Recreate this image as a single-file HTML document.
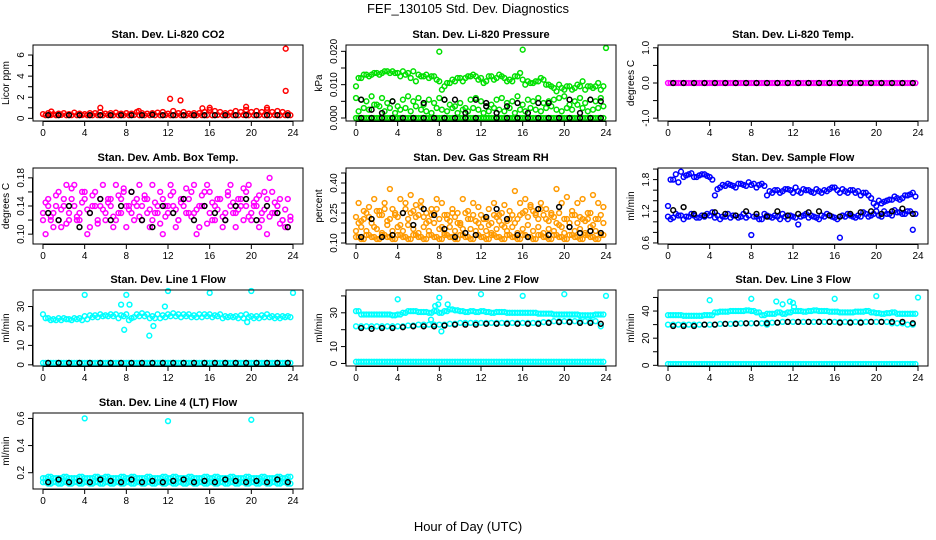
<!DOCTYPE html>
<html><head><meta charset="utf-8"><style>
body{margin:0;background:#fff}
svg{display:block;font-family:"Liberation Sans",sans-serif}
</style></head><body>
<svg id="c" width="936" height="540" viewBox="0 0 936 540">
<text x="468" y="13" text-anchor="middle" font-size="13">FEF_130105  Std. Dev. Diagnostics</text>
<text x="468" y="531" text-anchor="middle" font-size="13">Hour of Day (UTC)</text>
</svg>
<script>
const h48=[0,0.5,1,1.5,2,2.5,3,3.5,4,4.5,5,5.5,6,6.5,7,7.5,8,8.5,9,9.5,10,10.5,11,11.5,12,12.5,13,13.5,14,14.5,15,15.5,16,16.5,17,17.5,18,18.5,19,19.5,20,20.5,21,21.5,22,22.5,23,23.5];
const h48b=[0.25,0.75,1.25,1.75,2.25,2.75,3.25,3.75,4.25,4.75,5.25,5.75,6.25,6.75,7.25,7.75,8.25,8.75,9.25,9.75,10.25,10.75,11.25,11.75,12.25,12.75,13.25,13.75,14.25,14.75,15.25,15.75,16.25,16.75,17.25,17.75,18.25,18.75,19.25,19.75,20.25,20.75,21.25,21.75,22.25,22.75,23.25,23.75];
const h24=[0.5,1.5,2.5,3.5,4.5,5.5,6.5,7.5,8.5,9.5,10.5,11.5,12.5,13.5,14.5,15.5,16.5,17.5,18.5,19.5,20.5,21.5,22.5,23.5];
const xTicks=[0,4,8,12,16,20,24];

// CO2
const co2Red=[0.4,0.5,0.4,0.45,0.5,0.4,0.55,0.45,0.4,0.5,0.5,0.6,0.45,0.5,0.55,0.45,0.5,0.45,0.6,0.5,0.45,0.5,0.55,0.6,0.45,0.7,0.5,0.6,0.45,0.5,0.5,0.6,0.8,0.7,0.6,0.5,0.55,0.7,0.6,0.8,0.6,0.7,0.6,0.8,0.6,0.7,0.6,0.5];
const co2Red2=[0.3,0.32,0.3,0.33,0.3,0.31,0.3,0.32,0.3,0.3,0.31,0.3,0.32,0.3,0.3,0.31,0.3,0.32,0.3,0.3,0.31,0.3,0.3,0.32,0.3,0.31,0.3,0.3,0.32,0.3,0.31,0.3,0.3,0.32,0.3,0.3,0.31,0.3,0.32,0.3,0.3,0.31,0.3,0.3,0.32,0.3,0.31,0.3];
const co2OutX=[0.8,5.5,12.2,13.2,16,19.5,21.5,23.3,23.3,9.2,15.3];
const co2OutY=[0.65,1.0,1.85,1.7,1.0,1.1,1.0,6.6,2.6,0.7,0.95];
const co2Blk=[0.3,0.3,0.3,0.3,0.3,0.3,0.3,0.3,0.3,0.3,0.35,0.3,0.3,0.3,0.3,0.3,0.3,0.3,0.3,0.3,0.3,0.3,0.3,0.3];
// Pressure
const pUp=[0.0095,0.012,0.013,0.013,0.0135,0.0135,0.014,0.014,0.0135,0.014,0.0135,0.014,0.013,0.0125,0.012,0.0125,0.011,0.0095,0.0105,0.011,0.012,0.012,0.0125,0.0125,0.012,0.011,0.0125,0.012,0.0125,0.011,0.011,0.0125,0.0115,0.011,0.0105,0.011,0.0115,0.01,0.009,0.01,0.0085,0.0095,0.009,0.0095,0.0085,0.0095,0.0095,0.0085];
const pUp2=[0.012,0.013,0.0125,0.0135,0.013,0.014,0.0135,0.0135,0.0125,0.013,0.012,0.011,0.0125,0.013,0.0125,0.0115,0.0085,0.0105,0.0115,0.012,0.011,0.0125,0.013,0.0115,0.0105,0.0125,0.0115,0.013,0.012,0.0115,0.0125,0.0135,0.01,0.0105,0.011,0.012,0.01,0.0095,0.008,0.009,0.0095,0.0085,0.01,0.011,0.0095,0.009,0.0105,0.0095];
const pMid=[0.006,0.0055,0.005,0.0065,0.004,0.006,0.0045,0.005,0.0035,0.0055,0.0065,0.005,0.006,0.004,0.0055,0.0045,0.006,0.0055,0.004,0.0035,0.0045,0.003,0.0055,0.006,0.005,0.0035,0.004,0.0055,0.006,0.0045,0.005,0.0065,0.004,0.0055,0.005,0.006,0.0045,0.005,0.0055,0.006,0.0065,0.004,0.005,0.006,0.0045,0.0055,0.005,0.006];
const pLow=[0.002,0.003,0.0025,0.004,0.0035,0.002,0.003,0.0015,0.0025,0.003,0.002,0.0035,0.0025,0.002,0.0015,0.003,0.0025,0.002,0.003,0.0015,0.0025,0.002,0.003,0.0025,0.0015,0.002,0.003,0.0025,0.002,0.003,0.0015,0.0025,0.002,0.003,0.0025,0.002,0.003,0.0035,0.0025,0.002,0.003,0.0025,0.004,0.003,0.002,0.0025,0.003,0.0035];
const pZero=[0,0,0,0,0,0,0,0,0,0,0,0,0,0,0,0,0,0,0,0,0,0,0,0,0,0,0,0,0,0,0,0,0,0,0,0,0,0,0,0,0,0,0,0,0,0,0,0];
const pOutX=[8,16,24];
const pOutY=[0.0199,0.0205,0.021];
const pBlk=[0.0055,0.0025,0.0015,0.005,0,0,0.0045,0,0.0055,0.0055,0.0015,0.0055,0.0045,0.0015,0.0035,0.0045,0.0015,0.0045,0.0045,0,0.0055,0.0015,0.0055,0.005];
const pBlk2=[0,0,0,0,0,0,0,0,0,0,0,0,0.0035,0,0,0,0,0,0,0,0,0,0,0];
// Temp
const tMag=pZero;
const tBlk=[0,0,0,0,0,0,0,0,0,0,0,0,0,0,0,0,0,0,0,0,0,0,0,0];
// Amb box temp
const aMag1=[0.13,0.15,0.11,0.16,0.14,0.12,0.17,0.13,0.15,0.11,0.16,0.14,0.12,0.15,0.17,0.13,0.11,0.16,0.14,0.12,0.15,0.17,0.13,0.1,0.14,0.16,0.12,0.15,0.13,0.17,0.11,0.14,0.16,0.12,0.15,0.13,0.17,0.11,0.14,0.16,0.12,0.15,0.13,0.1,0.16,0.14,0.12,0.15];
const aMag2=[0.1,0.12,0.14,0.11,0.17,0.15,0.12,0.16,0.1,0.14,0.12,0.17,0.15,0.11,0.13,0.16,0.14,0.12,0.17,0.15,0.11,0.13,0.16,0.14,0.17,0.11,0.15,0.13,0.16,0.1,0.14,0.17,0.12,0.15,0.11,0.16,0.13,0.15,0.12,0.17,0.14,0.11,0.16,0.18,0.13,0.15,0.11,0.12];
const aMag3=[0.12,0.14,0.13,0.12,0.15,0.13,0.14,0.12,0.16,0.13,0.14,0.15,0.13,0.14,0.12,0.15,0.14,0.13,0.15,0.14,0.13,0.12,0.14,0.15,0.13,0.14,0.12,0.14,0.15,0.13,0.14,0.16,0.13,0.14,0.15,0.12,0.14,0.13,0.15,0.14,0.13,0.14,0.12,0.15,0.13,0.14,0.12,0.11];
const aMag4=[0.145,0.125,0.155,0.135,0.115,0.165,0.125,0.145,0.135,0.155,0.115,0.135,0.145,0.125,0.155,0.165,0.135,0.145,0.125,0.155,0.135,0.145,0.115,0.125,0.155,0.135,0.145,0.165,0.125,0.135,0.155,0.115,0.145,0.135,0.125,0.155,0.145,0.135,0.165,0.125,0.145,0.155,0.135,0.125,0.145,0.115,0.135,0.125];
const aBlk=[0.13,0.12,0.14,0.11,0.13,0.15,0.12,0.14,0.16,0.12,0.11,0.14,0.13,0.15,0.12,0.14,0.13,0.12,0.14,0.15,0.12,0.14,0.13,0.11];
// RH
const rLow=[0.13,0.12,0.14,0.13,0.12,0.14,0.13,0.12,0.14,0.13,0.12,0.14,0.13,0.12,0.14,0.13,0.12,0.14,0.13,0.12,0.14,0.13,0.12,0.14,0.13,0.12,0.14,0.13,0.12,0.14,0.13,0.12,0.14,0.13,0.12,0.14,0.13,0.12,0.14,0.13,0.12,0.14,0.13,0.12,0.14,0.13,0.12,0.14];
const rMid=[0.2,0.26,0.23,0.18,0.24,0.27,0.22,0.25,0.19,0.27,0.25,0.23,0.28,0.2,0.24,0.27,0.18,0.22,0.25,0.2,0.17,0.22,0.24,0.2,0.22,0.19,0.24,0.21,0.18,0.22,0.2,0.24,0.26,0.28,0.24,0.27,0.22,0.25,0.2,0.18,0.22,0.24,0.2,0.22,0.25,0.19,0.22,0.2];
const rMid2=[0.16,0.18,0.16,0.2,0.17,0.15,0.19,0.16,0.18,0.16,0.19,0.17,0.15,0.18,0.16,0.2,0.17,0.15,0.18,0.16,0.19,0.15,0.17,0.16,0.18,0.16,0.15,0.17,0.19,0.16,0.18,0.15,0.17,0.19,0.16,0.18,0.15,0.17,0.16,0.19,0.15,0.18,0.16,0.17,0.15,0.18,0.16,0.15];
const rMid3=[0.23,0.21,0.25,0.22,0.26,0.24,0.21,0.27,0.23,0.25,0.22,0.26,0.24,0.23,0.21,0.25,0.22,0.24,0.21,0.23,0.2,0.25,0.22,0.21,0.24,0.22,0.2,0.23,0.25,0.21,0.24,0.22,0.25,0.23,0.26,0.22,0.24,0.21,0.23,0.25,0.22,0.2,0.24,0.23,0.21,0.25,0.22,0.24];
const rHigh=[0.3,0.22,0.28,0.32,0.26,0.3,0.37,0.24,0.32,0.3,0.34,0.29,0.31,0.25,0.27,0.32,0.3,0.24,0.27,0.25,0.32,0.26,0.3,0.28,0.22,0.27,0.3,0.24,0.29,0.26,0.36,0.3,0.32,0.29,0.25,0.3,0.27,0.24,0.37,0.3,0.33,0.26,0.3,0.32,0.22,0.34,0.3,0.28];
const rBlk=[0.13,0.22,0.13,0.14,0.25,0.19,0.27,0.24,0.17,0.13,0.15,0.14,0.23,0.27,0.22,0.14,0.13,0.27,0.14,0.28,0.18,0.15,0.16,0.15];
// Sample flow
const sUp=[1.3,1.8,1.75,1.85,1.9,1.85,1.88,1.9,1.85,1.5,1.65,1.68,1.7,1.65,1.72,1.68,1.7,1.65,1.72,1.5,1.55,1.6,1.58,1.62,1.55,1.58,1.62,1.6,1.55,1.58,1.6,1.62,1.65,1.55,1.58,1.6,1.55,1.5,1.55,1.45,1.3,1.35,1.4,1.42,1.45,1.45,1.5,1.55];
const sUp2=[1.8,1.9,1.95,1.88,1.92,1.85,1.9,1.87,1.8,1.62,1.7,1.72,1.68,1.72,1.7,1.75,1.72,1.7,1.68,1.58,1.6,1.55,1.62,1.6,1.65,1.55,1.6,1.57,1.62,1.55,1.58,1.65,1.6,1.62,1.55,1.6,1.58,1.55,1.5,1.35,1.4,1.38,1.42,1.48,1.42,1.5,1.52,1.48];
const sLow=[1.1,1.08,1.12,1.05,1.1,1.12,1.08,1.1,1.12,1.08,1.05,1.1,1.08,1.12,1.1,1.08,0.75,1.1,1.05,1.12,1.08,1.1,1.15,1.05,1.1,0.95,1.12,1.08,1.1,1.05,1.1,1.12,1.08,0.7,1.1,1.12,1.08,1.1,1.15,1.12,1.2,1.1,1.15,1.12,1.18,1.15,1.2,0.85];
const sLow2=[1.05,1.15,1.12,1.1,1.15,1.08,1.12,1.15,1.18,1.12,1.1,1.15,1.12,1.08,1.15,1.12,1.1,1.05,1.15,1.1,1.12,1.05,1.1,1.12,1.08,1.1,1.15,1.12,1.08,1.12,1.15,1.1,1.05,1.12,1.15,1.1,1.12,1.18,1.1,1.15,1.12,1.2,1.15,1.22,1.18,1.15,1.2,1.15];
const sBlk=[1.22,1.28,1.15,1.12,1.18,1.15,1.12,1.2,1.15,1.1,1.2,1.12,1.15,1.18,1.2,1.12,1.1,1.15,1.18,1.2,1.15,1.2,1.25,1.15];
// Line 1
const l1Band=[26,24,23.5,24,24,23.5,24,24,25,25.5,25.5,26,25.5,26,26,25.5,26,24,26,26.5,26,25,26,25.5,26,26.5,26,26,26,25.5,26,26,26,25.5,26,25,25,25,25.5,26,25,25,25.5,26,25,25,25,25];
const l1Band2=[24,23,23,23,23.5,23,23.5,23,23.5,24.5,24.5,25,25,25,24,25,23,24.5,25,25,24,24,24,24.5,25,25,24.5,25,24.5,24.5,24.5,25,24.5,25,24,24.5,24.5,24,24,24.5,24,24,24.5,24.5,24,24,24.5,24.5];
const l1OutX=[4,8,12,16,20,24,7.5,8.3,10.6,10.2,11.7,7.8,19.6];
const l1OutY=[36,36,38,37,38,37,31,31,20,15,30,18,22];
const l1Zero=[1,1,1,1,1,1,1,1,1,1,1,1,1,1,1,1,1,1,1,1,1,1,1,1,1,1,1,1,1,1,1,1,1,1,1,1,1,1,1,1,1,1,1,1,1,1,1,1];
const l1Blk=[1,1,1,1,1,1,1,1,1,1,1,1,1,1,1,1,1,1,1,1,1,1,1,1];
// Line 2
const l2Band=[31,29,29,29,29,29,29,28.5,29,30,31,31,30.5,30.5,30,31,30,31,32,31.5,31,30.5,31,30.5,31,30.5,30,30.5,30.5,30,30,30,30,30,30,29.5,29.5,29.5,29,29,29,29,29,28.5,28.5,28.5,29,29];
const l2Low=[22,22,22,22,22,22,22,22,22,22,22.5,22.5,23,23,23,23,23,23,23.5,23.5,24,24,24,24,24,24,24,24,24,24,24,24,24,24,24,24,24.5,24.5,25,25,25,25,25,25,25,25,25,22];
const l2OutX=[4,8,12,16,20,24,7.6,7.9,7.2,8.2,8.8];
const l2OutY=[38,39,41,40,41,40,34,35,26,19,35];
const l2Blk=[21,20.5,21,21,21.5,22,22,22,22.5,23,23,23,23.5,23.5,23.5,23.5,23.5,23.5,24,24.5,24.5,24,24,23.5];
// Line 3
const l3Band=[37,37,37,36.5,36.5,36.5,36.5,37,37,39,39.5,39.5,40,40,40,40.5,40,39,37,38,38,39,38,39,40,40,39.5,40,40.5,40,40,39.5,39.5,39,39,39,39.5,39.5,40,39,38.5,38,38.5,39,38,38,38,38];
const l3Low=[30,30,30,30,30,30,30,30,30,30,30.5,30.5,30.5,31,31,31,31,31,31,31.5,31.5,31.5,32,32,32,32,32,32,32,32,32,32,32,32,32,32,32,32,32,32,32,32,32,31,31,31,30,30];
const l3OutX=[4,8,12,16,20,24,10.4,11,11.7,12.1,9.5];
const l3OutY=[48,49,46,49,51,50,47,45,47,43,30];
const l3Blk=[29,29,29,30,30,30.5,30.5,31,31,31,31.5,32,32,32,32,32,31.5,31.5,31.5,32,32,32,32,31];
// Line 4
const l4Band=[0.16,0.17,0.16,0.16,0.17,0.16,0.16,0.17,0.16,0.16,0.17,0.16,0.17,0.16,0.16,0.17,0.16,0.17,0.16,0.16,0.17,0.16,0.16,0.17,0.16,0.17,0.16,0.16,0.17,0.16,0.16,0.17,0.16,0.17,0.16,0.16,0.17,0.16,0.16,0.17,0.16,0.16,0.17,0.16,0.16,0.17,0.16,0.17];
const l4Low=[0.13,0.12,0.13,0.12,0.13,0.12,0.13,0.12,0.13,0.12,0.13,0.12,0.13,0.12,0.13,0.12,0.13,0.12,0.13,0.12,0.13,0.12,0.13,0.12,0.13,0.12,0.13,0.12,0.13,0.12,0.13,0.12,0.13,0.12,0.13,0.12,0.13,0.12,0.13,0.12,0.13,0.12,0.13,0.12,0.13,0.12,0.13,0.12];
const l4OutX=[4,12,20];
const l4OutY=[0.6,0.58,0.59];
const l4Blk=[0.13,0.15,0.13,0.14,0.13,0.15,0.14,0.13,0.15,0.13,0.14,0.13,0.14,0.15,0.13,0.14,0.13,0.15,0.14,0.13,0.14,0.13,0.15,0.13];

const NS="http://www.w3.org/2000/svg";
const svg=document.getElementById('c');
function mk(tag,attrs,parent){const e=document.createElementNS(NS,tag);for(const k in attrs)e.setAttribute(k,attrs[k]);(parent||svg).appendChild(e);return e;}
const colX=[33,346,658], rowY=[45,168,290,413], W=270, H=76;
const dec={co2:0,pressure:3,temp:1,ambtemp:2,rh:2,sampleflow:1,line1:0,line2:0,line3:0,line4:1};
function panel(name,col,row,title,ylab,ylim,yt,ylabels,series,lfs){
  const x0=colX[col],y0=rowY[row];
  const g=mk('g',{});
  
  
  const sx=v=>x0+(v+0.96)/25.92*W;
  const sy=v=>y0+H-(v-ylim[0])/(ylim[1]-ylim[0])*H;
  const t=mk('text',{x:x0+W/2,y:y0-7,'text-anchor':'middle','font-size':11,'font-weight':'bold'},g);t.textContent=title;
  
  const yl=mk('text',{x:0,y:0,transform:`translate(${x0-24},${y0+H/2}) rotate(-90)`,'text-anchor':'middle','font-size':10},g);yl.textContent=ylab;
  
  const pts=mk('g',{},g);
  
  series.forEach(s=>{
    for(let i=0;i<s.x.length;i++){
      const c=mk('circle',{cx:sx(s.x[i]).toFixed(1),cy:sy(s.y[i]).toFixed(1),r:2.4,fill:'none',stroke:s.c,'stroke-width':1.5},pts);
      
      
    }
  });
  const box=mk('rect',{x:x0,y:y0,width:W,height:H,fill:'none',stroke:'#000','stroke-width':1},g);
  
  xTicks.forEach(v=>{
    mk('line',{x1:sx(v),x2:sx(v),y1:y0+H,y2:y0+H+5,stroke:'#000'},g);
    const tx=mk('text',{x:sx(v),y:y0+H+15,'text-anchor':'middle','font-size':10},g);tx.textContent=v;
    
  });
  mk('line',{x1:sx(0),x2:sx(24),y1:y0+H+0.5,y2:y0+H+0.5,stroke:'#000'},g);
  yt.forEach(v=>{mk('line',{x1:x0-5,x2:x0,y1:sy(v),y2:sy(v),stroke:'#000'},g);});
  mk('line',{x1:x0-0.5,x2:x0-0.5,y1:sy(yt[0]),y2:sy(yt[yt.length-1]),stroke:'#000'},g);
  ylabels.forEach(v=>{
    const ty=mk('text',{x:0,y:0,transform:`translate(${x0-9},${sy(v)}) rotate(-90)`,'text-anchor':'middle','font-size':lfs||10},g);
    ty.textContent=v.toFixed(dec[name]);
    
  });
}
const K='#000';
panel('co2',0,0,'Stan. Dev. Li-820 CO2','Licor ppm',[-0.25,6.95],[0,1,2,3,4,5,6],[0,2,4,6],[
 {x:h48,y:co2Red,c:'#ff0000'},{x:h48b,y:co2Red2,c:'#ff0000'},{x:co2OutX,y:co2OutY,c:'#ff0000'},{x:h24,y:co2Blk,c:K}]);
panel('pressure',1,0,'Stan. Dev. Li-820 Pressure','kPa',[-0.0009,0.0219],[0,0.005,0.01,0.015,0.02],[0,0.01,0.02],[
 {x:h48,y:pUp,c:'#00e000'},{x:h48b,y:pUp2,c:'#00e000'},{x:h48,y:pMid,c:'#00e000'},{x:h48b,y:pLow,c:'#00e000'},{x:h48,y:pZero,c:'#00e000'},{x:h48b,y:pZero,c:'#00e000'},{x:pOutX,y:pOutY,c:'#00e000'},{x:h24,y:pBlk,c:K},{x:h24,y:pBlk2,c:K}]);
panel('temp',2,0,'Stan. Dev. Li-820 Temp.','degrees C',[-1.08,1.08],[-1,-0.5,0,0.5,1],[-1,0,1],[
 {x:h48,y:tMag,c:'#ff00ff'},{x:h48b,y:tMag,c:'#ff00ff'},{x:h24,y:tBlk,c:K}]);
panel('ambtemp',0,1,'Stan. Dev. Amb. Box Temp.','degrees C',[0.086,0.194],[0.1,0.12,0.14,0.16,0.18],[0.1,0.14,0.18],[
 {x:h48,y:aMag1,c:'#ff00ff'},{x:h48b,y:aMag2,c:'#ff00ff'},{x:h48,y:aMag3,c:'#ff00ff'},{x:h48b,y:aMag4,c:'#ff00ff'},{x:h24,y:aBlk,c:K}]);
panel('rh',1,1,'Stan. Dev. Gas Stream RH','percent',[0.095,0.475],[0.1,0.15,0.2,0.25,0.3,0.35,0.4,0.45],[0.1,0.25,0.4],[
 {x:h48,y:rLow,c:'#ff9a00'},{x:h48b,y:rLow,c:'#ff9a00'},{x:h48,y:rMid2,c:'#ff9a00'},{x:h48b,y:rMid,c:'#ff9a00'},{x:h48,y:rMid3,c:'#ff9a00'},{x:h48b,y:rHigh,c:'#ff9a00'},{x:h24,y:rBlk,c:K}]);
panel('sampleflow',2,1,'Stan. Dev. Sample Flow','ml/min',[0.58,2.02],[0.6,0.8,1,1.2,1.4,1.6,1.8,2.0],[0.6,1.2,1.8],[
 {x:h48,y:sUp,c:'#0000ff'},{x:h48b,y:sUp2,c:'#0000ff'},{x:h48,y:sLow,c:'#0000ff'},{x:h48b,y:sLow2,c:'#0000ff'},{x:h24,y:sBlk,c:K}]);
panel('line1',0,2,'Stan. Dev. Line 1 Flow','ml/min',[-0.6,38.5],[0,10,20,30],[0,10,20,30],[
 {x:h48,y:l1Band,c:'#00ffff'},{x:h48b,y:l1Band2,c:'#00ffff'},{x:l1OutX,y:l1OutY,c:'#00ffff'},{x:h48,y:l1Zero,c:'#00ffff'},{x:h48b,y:l1Zero,c:'#00ffff'},{x:h24,y:l1Blk,c:K}]);
panel('line2',1,2,'Stan. Dev. Line 2 Flow','ml/min',[-1.5,43.5],[0,10,20,30,40],[0,10,30],[
 {x:h48,y:l2Band,c:'#00ffff'},{x:h48b,y:l2Band,c:'#00ffff'},{x:h48,y:l2Low,c:'#00ffff'},{x:l2OutX,y:l2OutY,c:'#00ffff'},{x:h48,y:l1Zero,c:'#00ffff'},{x:h48b,y:l1Zero,c:'#00ffff'},{x:h24,y:l2Blk,c:K}]);
panel('line3',2,2,'Stan. Dev. Line 3 Flow','ml/min',[-0.5,55.5],[0,10,20,30,40,50],[0,20,40],[
 {x:h48,y:l3Band,c:'#00ffff'},{x:h48b,y:l3Band,c:'#00ffff'},{x:h48,y:l3Low,c:'#00ffff'},{x:l3OutX,y:l3OutY,c:'#00ffff'},{x:h48,y:l1Zero,c:'#00ffff'},{x:h48b,y:l1Zero,c:'#00ffff'},{x:h24,y:l3Blk,c:K}]);
panel('line4',0,3,'Stan. Dev. Line 4 (LT) Flow','ml/min',[0.08,0.64],[0.2,0.4,0.6],[0.2,0.4,0.6],[
 {x:h48,y:l4Band,c:'#00ffff'},{x:h48b,y:l4Band,c:'#00ffff'},{x:h48,y:l4Low,c:'#00ffff'},{x:h48b,y:l4Low,c:'#00ffff'},{x:l4OutX,y:l4OutY,c:'#00ffff'},{x:h24,y:l4Blk,c:K}]);
</script>
</body></html>
